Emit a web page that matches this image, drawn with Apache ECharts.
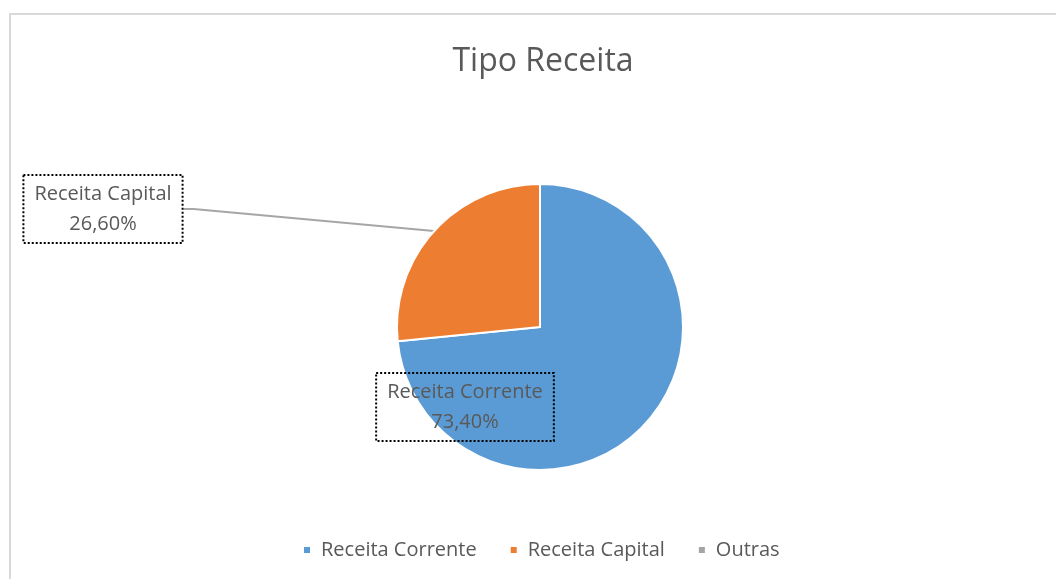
<!DOCTYPE html>
<html>

<head>
	<meta charset="utf-8" />
	<script src="https://cdn.jsdelivr.net/npm/echarts@6/dist/echarts.min.js"></script>
</head>

<title>
	Tipo Receita
</title>

<body style="margin: 0; background-color: #ffffff">
	<div id="main" style="width: 1056px; height: 579px;"></div>
</body>

<script type="text/javascript">
	var categories = ['Receita Corrente', 'Receita Capital', 'Outras'];
	var values = [73.4, 26.6, 0];
	var colors = ['#5B9BD5', '#ED7D31', '#A5A5A5'];

	// where Excel put the (manually moved) data labels, as label centres
	var labelSpots = [[465, 407], [103, 209]];

	var font = '"Open Sans", sans-serif';
	var textGray = '#595959';

	var myChart = echarts.init(document.getElementById('main'));

	var pieData = categories.map(function (name, i) {
		var item = {
			name: name,
			value: values[i],
			itemStyle: { color: colors[i] }
		};
		if (i === 0) {
			item.labelLine = { show: false };
		}
		if (values[i] === 0) {
			item.label = { show: false };
			item.labelLine = { show: false };
		}
		return item;
	});

	option = {
		backgroundColor: '#ffffff',
		animation: false,
		graphic: [{
			type: 'rect',
			shape: { x: 10, y: 14, width: 1100, height: 620 },
			style: { fill: 'none', stroke: '#d9d9d9', lineWidth: 2 }
		}],
		title: {
			text: 'Tipo Receita',
			left: 538,
			top: 41,
			textAlign: 'center',
			textStyle: {
				color: textGray,
				fontFamily: font,
				fontSize: 32,
				fontWeight: 'normal'
			}
		},
		legend: {
			left: 297,
			top: 535,
			icon: 'rect',
			itemWidth: 8,
			itemHeight: 8,
			itemGap: 32,
			data: categories,
			textStyle: {
				color: textGray,
				fontFamily: font,
				fontSize: 20,
				padding: [0, 0, 0, 5]
			}
		},
		series: [{
			type: 'pie',
			center: [540, 327],
			radius: 143,
			startAngle: 90,
			clockwise: true,
			avoidLabelOverlap: false,
			itemStyle: { borderColor: '#ffffff', borderWidth: 2 },
			label: {
				show: true,
				position: 'outside',
				formatter: function (p) {
					return p.name + '\n' + p.value.toFixed(2).replace('.', ',') + '%';
				},
				color: textGray,
				fontFamily: font,
				fontSize: 20,
				lineHeight: 30,
				align: 'center',
				borderType: [2, 2],
				borderColor: '#000000',
				borderWidth: 2,
				padding: [4, 11, 4, 11]
			},
			labelLine: {
				show: true,
				length: 10,
				length2: 10,
				lineStyle: { color: '#A6A6A6', width: 2 }
			},
			labelLayout: function (params) {
				var spot = labelSpots[params.dataIndex];
				if (!spot) {
					return {};
				}
				return {
					x: spot[0],
					y: spot[1],
					align: 'center',
					verticalAlign: 'middle'
				};
			},
			data: pieData
		}]
	};

	myChart.setOption(option);
</script>

</html>
